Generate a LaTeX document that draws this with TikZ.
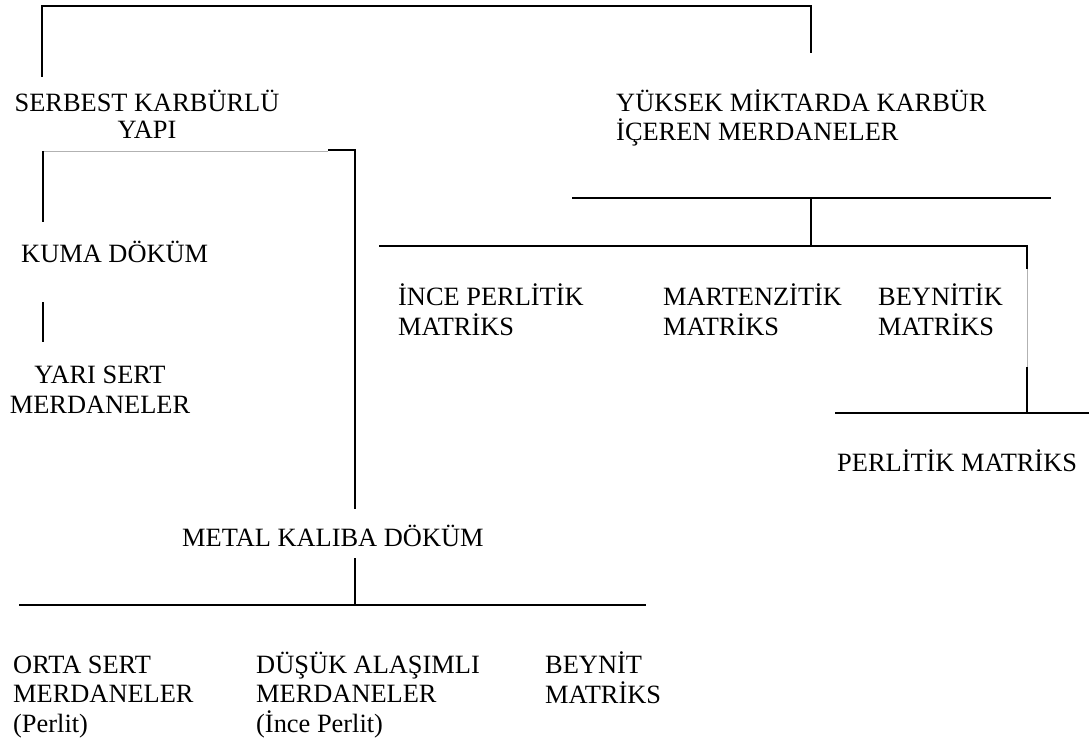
\documentclass[tikz,border=0pt]{standalone}
\usepackage{fontspec}
\setmainfont{Liberation Serif}
\begin{document}
\begin{tikzpicture}[x=1pt,y=-1pt,
    bar/.style={line width=1.4pt},
    faint/.style={line width=0.6pt,black!30},
    lbl/.style={inner sep=0pt,anchor=base west,align=left,font=\fontsize{26.4}{29.5}\selectfont}]
    \useasboundingbox (0,0) rectangle (1089,743);

    \coordinate (A) at (42,6);
    \coordinate (B) at (811,6);
    \coordinate (C) at (42,77);
    \coordinate (D) at (811,53);
    \coordinate (E) at (43,151);
    \coordinate (F) at (328,151);
    \coordinate (G) at (328,150);
    \coordinate (H) at (355,150);
    \coordinate (I) at (355,509);
    \coordinate (J) at (43,222);
    \coordinate (K) at (43,302);
    \coordinate (L) at (43,342);
    \coordinate (M) at (355,558);
    \coordinate (N) at (355,605);
    \coordinate (O) at (19,605);
    \coordinate (P) at (646,605);
    \coordinate (Q) at (572,198);
    \coordinate (R) at (1051,198);
    \coordinate (S) at (811,198);
    \coordinate (T) at (811,246);
    \coordinate (U) at (379,246);
    \coordinate (V) at (1027,246);
    \coordinate (W) at (1027,269);
    \coordinate (X) at (1027,367);
    \coordinate (Y) at (1027,413);
    \coordinate (Z) at (835,413);
    \coordinate (Z1) at (1089,413);

    % multi-line labels sit on the baseline of their last line
    \node[lbl,anchor=base,align=center,font=\fontsize{26.4}{27}\selectfont] (serbest) at (147,139) {SERBEST KARBÜRLÜ\\YAPI};
    \node[lbl,font=\fontsize{26.4}{29}\selectfont] (yuksek) at (616,141) {YÜKSEK MİKTARDA KARBÜR\\İÇEREN MERDANELER};
    \node[lbl] (kuma) at (21,263) {KUMA DÖKÜM};
    \node[lbl,anchor=base,align=center] (yari) at (100,413) {YARI SERT\\MERDANELER};
    \node[lbl] (ince) at (398,335) {İNCE PERLİTİK\\MATRİKS};
    \node[lbl] (marten) at (663,335) {MARTENZİTİK\\MATRİKS};
    \node[lbl] (beynitik) at (878,335) {BEYNİTİK\\MATRİKS};
    \node[lbl] (perlitik) at (837,471) {PERLİTİK MATRİKS};
    \node[lbl] (metal) at (182,546) {METAL KALIBA DÖKÜM};
    \node[lbl] (orta) at (13,732) {ORTA SERT\\MERDANELER\\(Perlit)};
    \node[lbl] (dusuk) at (256,732) {DÜŞÜK ALAŞIMLI\\MERDANELER\\(İnce Perlit)};
    \node[lbl] (beynit) at (545,703) {BEYNİT\\MATRİKS};

    \draw[bar] (C) -- (A) -- (B) -- (D);
    \draw[faint] (E) -- (F);
    \draw[bar] (G) -- (H) -- (I);
    \draw[bar] (E) -- (J);
    \draw[bar] (K) -- (L);
    \draw[bar] (M) -- (N);
    \draw[bar] (O) -- (P);
    \draw[bar] (Q) -- (R);
    \draw[bar] (S) -- (T);
    \draw[bar] (U) -- (V) -- (W);
    \draw[faint] (W) -- (X);
    \draw[bar] (X) -- (Y);
    \draw[bar] (Z) -- (Z1);
\end{tikzpicture}
\end{document}
